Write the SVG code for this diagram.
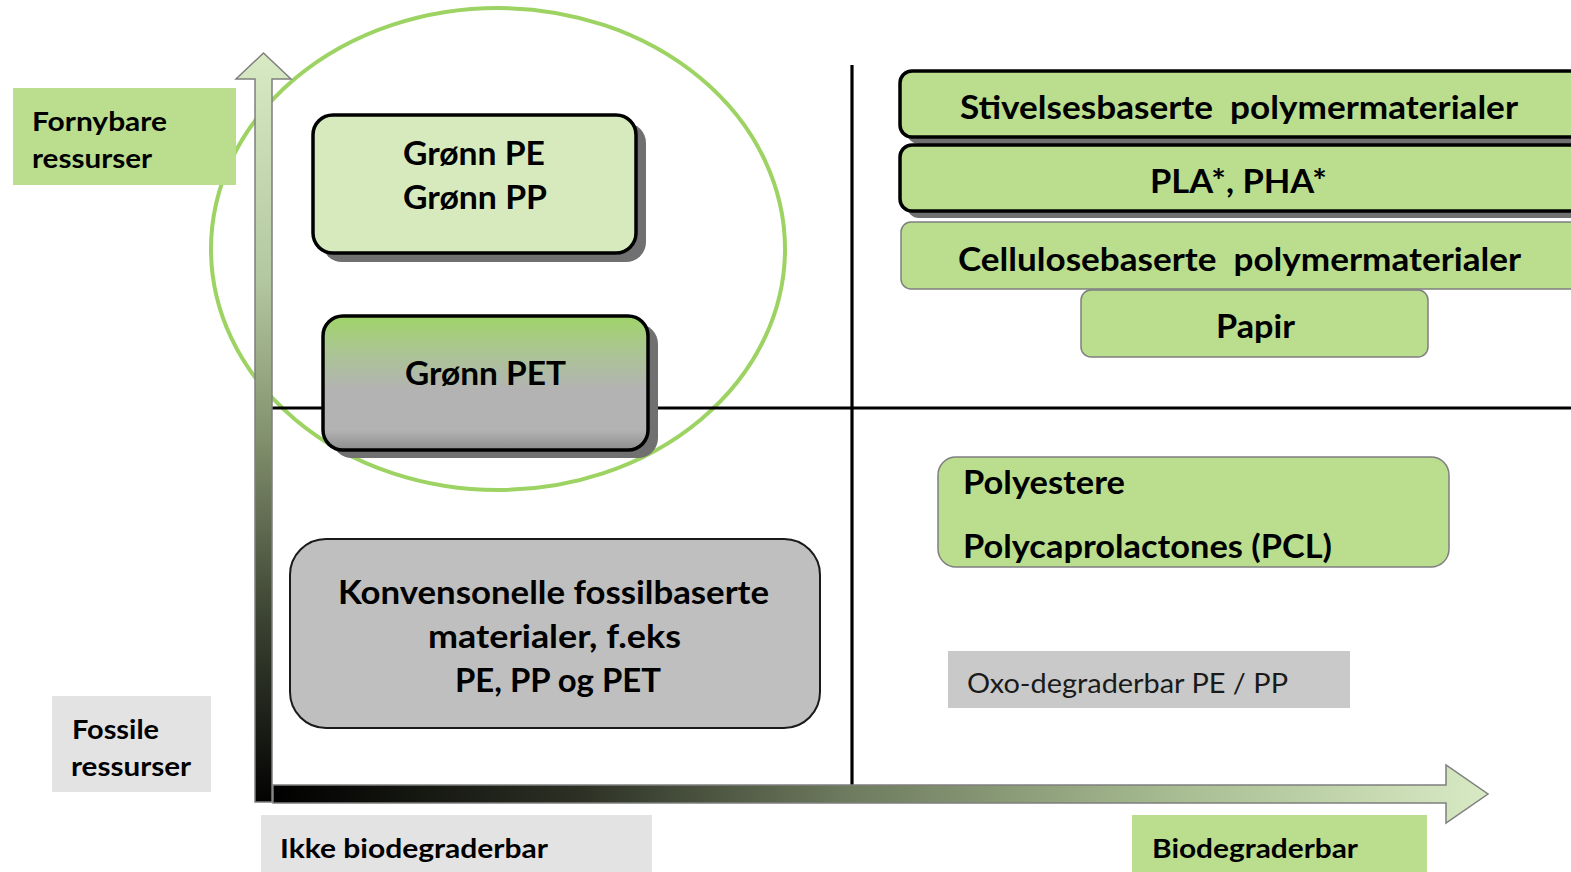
<svg xmlns="http://www.w3.org/2000/svg" width="1571" height="872" viewBox="0 0 1571 872">
  <style>
    .t { font-family: Lato, "Open Sans", "Liberation Sans", sans-serif; font-weight: bold; fill: #000; }
    .r { font-family: Lato, "Open Sans", "Liberation Sans", sans-serif; font-weight: normal; fill: #1a1a1a; }
    .shadow { fill: #707070; }
    .boxk { stroke: #000; stroke-width: 3.5; }
    .boxg { stroke: #7f7f7f; stroke-width: 1.5; }
    .green { fill: #bade8e; }
    .axis { stroke: #000; stroke-width: 3.2; fill: none; }
  </style>
  <defs>
    <linearGradient id="gradUp" x1="0" y1="53" x2="0" y2="802" gradientUnits="userSpaceOnUse">
      <stop offset="0" stop-color="#d8eac4"/>
      <stop offset="0.3" stop-color="#b3c7a0"/>
      <stop offset="0.5" stop-color="#869571"/>
      <stop offset="0.75" stop-color="#3d4433"/>
      <stop offset="1" stop-color="#030303"/>
    </linearGradient>
    <linearGradient id="gradRight" x1="273" y1="0" x2="1488" y2="0" gradientUnits="userSpaceOnUse">
      <stop offset="0" stop-color="#000"/>
      <stop offset="0.25" stop-color="#2c3024"/>
      <stop offset="0.47" stop-color="#6d7a5e"/>
      <stop offset="0.75" stop-color="#a9be93"/>
      <stop offset="1" stop-color="#d8eac4"/>
    </linearGradient>
    <linearGradient id="gradPet" x1="0" y1="0" x2="0" y2="1">
      <stop offset="0" stop-color="#a0d468"/>
      <stop offset="0.25" stop-color="#aac690"/>
      <stop offset="0.55" stop-color="#b3b3b3"/>
      <stop offset="0.85" stop-color="#b3b3b3"/>
      <stop offset="1" stop-color="#8e8e8e"/>
    </linearGradient>
  </defs>

  <!-- renewable-resource circle -->
  <ellipse id="renewable-ring" cx="498" cy="249" rx="287" ry="241" fill="none" stroke="#9dd362" stroke-width="4"/>

  <!-- quadrant dividers and axes -->
  <g id="connectors">
    <line class="axis" x1="852" y1="65" x2="852" y2="786"/>
    <line class="axis" x1="272" y1="408" x2="1571" y2="408"/>
    <path id="axis-up" d="M255,802 L255,79 L236,79 L263.5,53 L291,79 L272,79 L272,802 Z" fill="url(#gradUp)" stroke="#7f7f7f" stroke-width="1.5"/>
    <path id="axis-right" d="M273,785 L1446,785 L1446,765 L1488,794 L1446,823 L1446,803 L273,803 Z" fill="url(#gradRight)" stroke="#7f7f7f" stroke-width="1.5"/>
  </g>

  <g id="fornybare">
    <rect x="13" y="88" width="223" height="97" class="green"/>
    <text class="t" x="32" y="131" font-size="26" textLength="135" lengthAdjust="spacingAndGlyphs">Fornybare</text>
    <text class="t" x="32" y="168" font-size="26" textLength="120" lengthAdjust="spacingAndGlyphs">ressurser</text>
  </g>

  <g id="fossile">
    <rect x="52" y="696" width="159" height="96" fill="#e3e3e3"/>
    <text class="t" x="72" y="739" font-size="26" textLength="87" lengthAdjust="spacingAndGlyphs">Fossile</text>
    <text class="t" x="71" y="776" font-size="26" textLength="120" lengthAdjust="spacingAndGlyphs">ressurser</text>
  </g>

  <g id="gronn-pe-pp">
    <rect x="322" y="123" width="324" height="139" rx="20" class="shadow"/>
    <rect x="313" y="115" width="323" height="138" rx="20" fill="#d7eabd" class="boxk"/>
    <text class="t" x="403" y="165" font-size="32" textLength="142" lengthAdjust="spacingAndGlyphs">Grønn PE</text>
    <text class="t" x="403" y="209" font-size="32" textLength="144" lengthAdjust="spacingAndGlyphs">Grønn PP</text>
  </g>

  <g id="gronn-pet">
    <rect x="332" y="324" width="326" height="134" rx="20" class="shadow"/>
    <rect x="323" y="316" width="325" height="134" rx="20" fill="url(#gradPet)" class="boxk"/>
    <text class="t" x="405" y="385" font-size="32" textLength="161" lengthAdjust="spacingAndGlyphs">Grønn PET</text>
  </g>

  <g id="konvensjonelle">
    <rect x="290" y="539" width="530" height="189" rx="36" fill="#bfbfbf" stroke="#1a1a1a" stroke-width="2"/>
    <text class="t" x="338" y="604" font-size="32" textLength="431" lengthAdjust="spacingAndGlyphs">Konvensonelle fossilbaserte</text>
    <text class="t" x="428" y="648" font-size="32" textLength="253" lengthAdjust="spacingAndGlyphs">materialer, f.eks</text>
    <text class="t" x="455" y="692" font-size="32" textLength="206" lengthAdjust="spacingAndGlyphs">PE, PP og PET</text>
  </g>

  <g id="stivelse">
    <rect x="907" y="77" width="700" height="67" rx="12" class="shadow"/>
    <rect x="900" y="71" width="700" height="66" rx="12" class="green boxk"/>
    <text class="t" x="960" y="119" font-size="32" textLength="558" lengthAdjust="spacingAndGlyphs">Stivelsesbaserte&#160; polymermaterialer</text>
  </g>

  <g id="pla-pha">
    <rect x="907" y="151" width="700" height="67" rx="12" class="shadow"/>
    <rect x="900" y="145" width="700" height="66" rx="12" class="green boxk"/>
    <text class="t" x="1150" y="193" font-size="32" textLength="177" lengthAdjust="spacingAndGlyphs">PLA*, PHA*</text>
  </g>

  <g id="cellulose">
    <rect x="901" y="222" width="700" height="67" rx="10" class="green boxg"/>
    <text class="t" x="958" y="271" font-size="32" textLength="563" lengthAdjust="spacingAndGlyphs">Cellulosebaserte&#160; polymermaterialer</text>
  </g>

  <g id="papir">
    <rect x="1081" y="290" width="347" height="67" rx="10" class="green boxg"/>
    <text class="t" x="1216" y="338" font-size="32" textLength="79" lengthAdjust="spacingAndGlyphs">Papir</text>
  </g>

  <g id="polyestere">
    <rect x="938" y="457" width="511" height="110" rx="18" class="green boxg"/>
    <text class="t" x="963" y="494" font-size="32" textLength="162" lengthAdjust="spacingAndGlyphs">Polyestere</text>
    <text class="t" x="963" y="558" font-size="32" textLength="369" lengthAdjust="spacingAndGlyphs">Polycaprolactones (PCL)</text>
  </g>

  <g id="oxo">
    <rect x="948" y="651" width="402" height="57" fill="#c9c9c9"/>
    <text class="r" x="967" y="693" font-size="27" textLength="321" lengthAdjust="spacingAndGlyphs">Oxo-degraderbar PE / PP</text>
  </g>

  <g id="ikke-biodegraderbar">
    <rect x="261" y="815" width="391" height="57" fill="#e3e3e3"/>
    <text class="t" x="280" y="858" font-size="27" textLength="268" lengthAdjust="spacingAndGlyphs">Ikke biodegraderbar</text>
  </g>

  <g id="biodegraderbar">
    <rect x="1132" y="815" width="295" height="57" class="green"/>
    <text class="t" x="1152" y="858" font-size="27" textLength="206" lengthAdjust="spacingAndGlyphs">Biodegraderbar</text>
  </g>
</svg>
